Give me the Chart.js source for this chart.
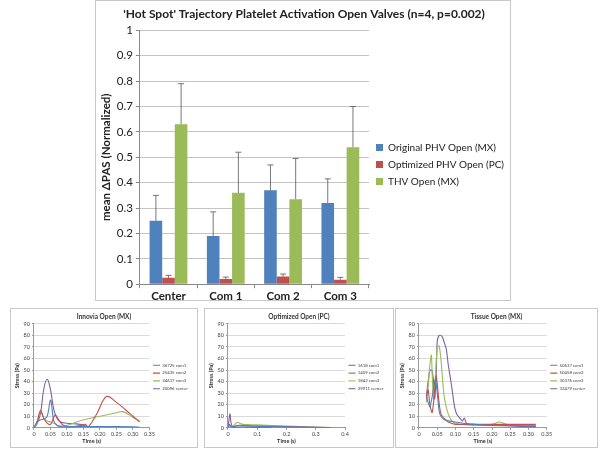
<!DOCTYPE html>
<html>
<head>
<meta charset="utf-8">
<script src="https://cdn.jsdelivr.net/npm/chart.js@4.4.1/dist/chart.umd.min.js"></script>
<style>
  body { margin: 0; background: #fff; width: 600px; height: 450px; position: relative; overflow: hidden; }
  .box { position: absolute; border: 1px solid #c8c8c8; box-sizing: border-box; background: #fff; }
</style>
</head>
<body>
<div class="box" style="left:95px; top:0px; width:416px; height:301px;"><canvas id="mainChart"></canvas></div>
<div class="box" style="left:10px; top:308px; width:188px; height:140px;"><canvas id="innovia"></canvas></div>
<div class="box" style="left:204px; top:308px; width:190px; height:140px;"><canvas id="optimized"></canvas></div>
<div class="box" style="left:395px; top:308px; width:203px; height:140px;"><canvas id="tissue"></canvas></div>
<script>
// main bar chart
const locations = ['Center', 'Com 1', 'Com 2', 'Com 3'];
const originalPHV = [0.25, 0.19, 0.37, 0.32];
const originalErr = [0.10, 0.095, 0.10, 0.095];
const optimizedPHV = [0.025, 0.02, 0.03, 0.018];
const optimizedErr = [0.01, 0.008, 0.01, 0.009];
const thvOpen = [0.63, 0.36, 0.335, 0.54];
const thvErr = [0.16, 0.16, 0.16, 0.16];

// small stress curves, [time (s), stress (Pa)]
const innCom1 = [[0,0],[0.01,5],[0.02,7],[0.03,7.5],[0.04,10],[0.05,24],[0.055,16],[0.06,6],[0.07,2],[0.08,1],[0.1,1],[0.15,1],[0.2,1],[0.25,1],[0.3,0.8],[0.32,0.5]];
const innCom2 = [[0,0],[0.01,6],[0.02,15],[0.03,8],[0.04,4],[0.05,3],[0.06,9],[0.065,11],[0.075,7],[0.085,3],[0.1,1],[0.12,1],[0.14,2],[0.155,3],[0.165,1],[0.19,12],[0.22,27],[0.25,22],[0.28,15],[0.3,10],[0.32,5]];
const innCom3 = [[0,0],[0.01,5],[0.02,14],[0.03,8],[0.04,6],[0.05,5],[0.06,4],[0.07,2.5],[0.08,1.5],[0.1,2],[0.12,4],[0.15,7],[0.2,10],[0.25,13],[0.27,14],[0.3,9],[0.32,6]];
const innCenter = [[0,0],[0.01,4],[0.02,13],[0.03,34],[0.04,42],[0.05,33],[0.06,16],[0.07,8],[0.08,5],[0.1,4],[0.12,3.5],[0.14,3],[0.15,2],[0.165,1]];

const optCom1 = [[0,0],[0.005,2],[0.01,1],[0.03,1.5],[0.05,1.5],[0.1,1.2],[0.2,0.8],[0.3,0.4],[0.35,0.2]];
const optCom2 = [[0,0],[0.005,3],[0.01,1],[0.02,0.5],[0.03,2],[0.05,2],[0.1,1.5],[0.2,1],[0.3,0.5],[0.35,0.3]];
const optCom3 = [[0,0],[0.01,1],[0.02,2],[0.03,4.5],[0.04,4],[0.05,3],[0.1,2.5],[0.2,1.5],[0.3,0.5],[0.35,0.2]];
const optCenter = [[0,0],[0.004,8],[0.007,12],[0.01,5],[0.015,1],[0.02,0.5],[0.05,0.5],[0.1,0.3],[0.15,0.2]];

const tisCom1 = [[0.02,28],[0.025,22],[0.03,18],[0.035,25],[0.04,35],[0.045,42],[0.05,30],[0.055,15],[0.06,10],[0.07,7],[0.08,6],[0.1,5],[0.12,4],[0.15,3],[0.2,2],[0.25,2],[0.3,1.5],[0.32,1.5]];
const tisCom2 = [[0.02,25],[0.025,33],[0.03,20],[0.036,13],[0.041,25],[0.047,45],[0.05,38],[0.055,22],[0.06,12],[0.07,8],[0.08,5],[0.1,3],[0.15,3],[0.2,3],[0.25,3],[0.3,3],[0.32,3]];
const tisCom3 = [[0.02,22],[0.025,35],[0.03,55],[0.034,63],[0.037,40],[0.04,25],[0.045,45],[0.05,70],[0.055,71],[0.06,60],[0.065,40],[0.07,25],[0.08,12],[0.09,6],[0.1,4],[0.12,3],[0.15,2],[0.2,3],[0.22,5],[0.24,3],[0.27,2],[0.3,2],[0.32,2]];
const tisCenter = [[0.02,27],[0.025,40],[0.03,50],[0.035,50],[0.04,40],[0.043,25],[0.047,45],[0.05,75],[0.055,80],[0.06,80],[0.065,78],[0.07,73],[0.075,68],[0.08,55],[0.088,39],[0.097,19],[0.103,12],[0.11,9],[0.119,6],[0.124,8.5],[0.13,4],[0.14,3],[0.15,3],[0.2,2],[0.25,1.5],[0.3,1],[0.32,1]];

const FONT = 'Lato, "Open Sans", sans-serif';
const BLUE = '#4F81BD', RED = '#C0504D', GREEN = '#9BBB59', PURPLE = '#7D60A0';

const errorBars = {
  id: 'errorBars',
  afterDatasetsDraw(chart) {
    const ctx = chart.ctx;
    const y = chart.scales.y;
    chart.data.datasets.forEach((ds, i) => {
      const meta = chart.getDatasetMeta(i);
      meta.data.forEach((bar, j) => {
        const top = y.getPixelForValue(ds.data[j] + ds.errors[j]);
        ctx.save();
        ctx.strokeStyle = '#555';
        ctx.lineWidth = 0.8;
        ctx.beginPath();
        ctx.moveTo(bar.x, bar.y);
        ctx.lineTo(bar.x, top);
        ctx.moveTo(bar.x - 3, top);
        ctx.lineTo(bar.x + 3, top);
        ctx.stroke();
        ctx.restore();
      });
    });
  }
};

new Chart('mainChart', {
  type: 'bar',
  data: {
    labels: locations,
    datasets: [
      { label: 'Original PHV Open (MX)', data: originalPHV, errors: originalErr, backgroundColor: BLUE },
      { label: 'Optimized PHV Open (PC)', data: optimizedPHV, errors: optimizedErr, backgroundColor: RED },
      { label: 'THV Open (MX)', data: thvOpen, errors: thvErr, backgroundColor: GREEN }
    ]
  },
  options: {
    responsive: true,
    maintainAspectRatio: false,
    animation: false,
    datasets: { bar: { categoryPercentage: 0.66, barPercentage: 1.0 } },
    layout: { padding: { left: 2, right: 0, top: 0, bottom: -4 } },
    plugins: {
      title: {
        display: true,
        text: "'Hot Spot' Trajectory Platelet Activation Open Valves (n=4, p=0.002)",
        color: '#222',
        font: { family: FONT, size: 12, weight: 'bold' },
        padding: { top: 6, bottom: 9 }
      },
      legend: {
        position: 'right',
        maxWidth: 141,
        title: { display: true, text: ' ', font: { size: 10 }, padding: { top: 6, bottom: 6 } },
        labels: { boxWidth: 7, boxHeight: 7, padding: 7, color: '#222', font: { family: FONT, size: 10 } }
      },
      tooltip: { enabled: false }
    },
    scales: {
      x: {
        grid: { drawOnChartArea: false, drawTicks: true, tickLength: 4, offset: true, color: '#888' },
        border: { display: true, color: '#888' },
        ticks: { color: '#222', font: { family: FONT, size: 11.5, weight: 'bold' }, padding: 1 }
      },
      y: {
        min: 0,
        max: 1,
        ticks: { stepSize: 0.1, color: '#222', font: { family: FONT, size: 11.5 }, padding: 3,
          callback: v => String(Number(v.toFixed(1))) },
        grid: { color: '#c4c4c4', tickLength: 4, tickColor: '#888' },
        border: { display: true, color: '#888' },
        title: { display: true, text: 'mean ΔPAS (Normalized)', color: '#222', font: { family: FONT, size: 11.5, weight: 'bold' }, padding: 1 }
      }
    }
  },
  plugins: [errorBars]
});

function toPoints(pairs) {
  return pairs.map(p => ({ x: p[0], y: p[1] }));
}

function stressChart(id, title, xMax, xStep, names, series, tension) {
  const colors = [BLUE, RED, GREEN, PURPLE];
  new Chart(id, {
    type: 'line',
    data: {
      datasets: series.map((s, i) => ({
        label: names[i],
        data: toPoints(s),
        borderColor: colors[i],
        backgroundColor: colors[i],
        borderWidth: 1.1,
        pointRadius: 0,
        tension: tension,
        fill: false
      }))
    },
    options: {
      responsive: true,
      maintainAspectRatio: false,
      animation: false,
      layout: { padding: { left: 2, right: 2, top: 0, bottom: 2 } },
      plugins: {
        title: { display: true, text: title, color: '#333', font: { family: FONT, size: 6.5, weight: 'bold' }, padding: { top: 4, bottom: 3 } },
        legend: {
          position: 'right',
          labels: { usePointStyle: true, pointStyle: 'line', pointStyleWidth: 7, padding: 3.5, color: '#444', font: { family: FONT, size: 4.3 } }
        },
        tooltip: { enabled: false }
      },
      scales: {
        x: {
          type: 'linear',
          min: 0,
          max: xMax,
          ticks: { stepSize: xStep, color: '#444', font: { family: FONT, size: 5.5 }, padding: 1, maxRotation: 0, autoSkip: false },
          grid: { drawOnChartArea: false, tickLength: 2, color: '#999' },
          border: { display: true, color: '#999' },
          title: { display: true, text: 'Time (s)', color: '#333', font: { family: FONT, size: 5.5, weight: 'bold' }, padding: 0 }
        },
        y: {
          min: 0,
          max: 90,
          ticks: { stepSize: 10, color: '#444', font: { family: FONT, size: 5.5 }, padding: 2 },
          grid: { color: '#dadada', tickLength: 2, tickColor: '#999' },
          border: { display: true, color: '#999' },
          title: { display: true, text: 'Stress (Pa)', color: '#333', font: { family: FONT, size: 5.5, weight: 'bold' }, padding: 1 }
        }
      }
    }
  });
}

stressChart('innovia', 'Innovia Open (MX)', 0.35, 0.05,
  ['36725 com1', '25435 com2', '24617 com3', '20096 center'],
  [innCom1, innCom2, innCom3, innCenter], 0.4);
stressChart('optimized', 'Optimized Open (PC)', 0.4, 0.1,
  ['1618 com1', '1409 com2', '1842 com3', '29911 center'],
  [optCom1, optCom2, optCom3, optCenter], 0.4);
stressChart('tissue', 'Tissue Open (MX)', 0.35, 0.05,
  ['50637 com1', '50458 com2', '30376 com3', '32479 center'],
  [tisCom1, tisCom2, tisCom3, tisCenter], 0.2);
</script>
</body>
</html>
